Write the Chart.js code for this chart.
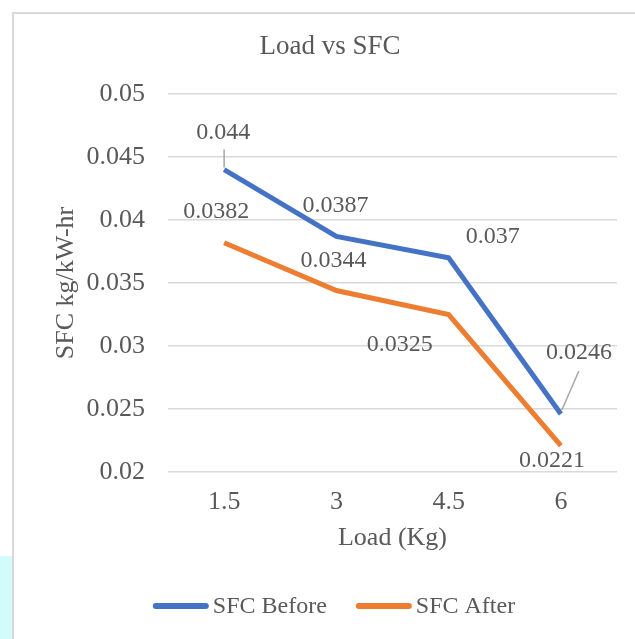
<!DOCTYPE html>
<html>
<head>
<meta charset="utf-8">
<script src="https://cdn.jsdelivr.net/npm/chart.js@4.4.0/dist/chart.umd.min.js"></script>
<style>
  body { margin: 0; background: #fff; }
  .frame { position: absolute; left: 12px; top: 12px; width: 700px; height: 700px;
           border-left: 2px solid #d9d9d9; border-top: 2px solid #d9d9d9; }
  .strip { position: absolute; left: 0; top: 556px; width: 12px; height: 83px; background: #d2fbfb; }
  #sfcChart { position: absolute; left: 0; top: 0; }
</style>
</head>
<body>
<div class="strip"></div>
<div class="frame"></div>
<canvas id="sfcChart" width="635" height="639"></canvas>
<script>
const loads = ['1.5', '3', '4.5', '6'];
const sfcBefore = [0.044, 0.0387, 0.037, 0.0246];
const sfcAfter = [0.0382, 0.0344, 0.0325, 0.0221];
const yMin = 0.02, yMax = 0.05, yStep = 0.005;

const serif = '"Liberation Serif", "Times New Roman", serif';
const grey = '#595959';

// where each data label sits relative to its point, plus leader lines
const labelSpots = [
    [{ dx: -1, dy: -37, leader: [0, -20, 0, -2] }, { dx: -1, dy: -31 }, { dx: 44, dy: -21 },
     { dx: 18, dy: -61, leader: [18, -43, 1, -4] }],
    [{ dx: -8, dy: -31 }, { dx: -3, dy: -30 }, { dx: -49, dy: 30 }, { dx: -9, dy: 15 }]
];

const extras = {
    id: 'extras',
    afterDatasetsDraw(chart) {
        const ctx = chart.ctx;
        ctx.save();
        ctx.font = '24px ' + serif;
        ctx.fillStyle = grey;
        ctx.textAlign = 'center';
        ctx.textBaseline = 'middle';
        chart.data.datasets.forEach((ds, i) => {
            const meta = chart.getDatasetMeta(i);
            meta.data.forEach((pt, j) => {
                const s = labelSpots[i][j];
                if (s.leader) {
                    ctx.strokeStyle = '#a6a6a6';
                    ctx.lineWidth = 1.5;
                    ctx.beginPath();
                    ctx.moveTo(pt.x + s.leader[0], pt.y + s.leader[1]);
                    ctx.lineTo(pt.x + s.leader[2], pt.y + s.leader[3]);
                    ctx.stroke();
                }
                ctx.fillText(String(ds.data[j]), pt.x + s.dx, pt.y + s.dy);
            });
        });

        // title
        ctx.font = '27px ' + serif;
        ctx.fillText('Load vs SFC', 330, 47);

        // legend
        ctx.font = '24px ' + serif;
        ctx.textAlign = 'left';
        const lineW = 56, gap = 4, itemGap = 29;
        const widths = chart.data.datasets.map(ds => ctx.measureText(ds.label).width);
        let total = 0;
        widths.forEach((w, i) => { total += lineW + gap + w + (i ? itemGap : 0); });
        let x = 334 - total / 2;
        const y = 606;
        chart.data.datasets.forEach((ds, i) => {
            ctx.strokeStyle = ds.borderColor;
            ctx.lineWidth = 6;
            ctx.lineCap = 'round';
            ctx.beginPath();
            ctx.moveTo(x + 3, y);
            ctx.lineTo(x + lineW - 3, y);
            ctx.stroke();
            ctx.fillText(ds.label, x + lineW + gap, y + 1);
            x += lineW + gap + widths[i] + itemGap;
        });
        ctx.restore();
    }
};

new Chart(document.getElementById('sfcChart'), {
    type: 'line',
    data: {
        labels: loads,
        datasets: [{
            label: 'SFC Before',
            data: sfcBefore,
            borderColor: '#4472C4',
            backgroundColor: '#4472C4',
            borderWidth: 5,
            pointRadius: 0,
            tension: 0,
            fill: false
        }, {
            label: 'SFC After',
            data: sfcAfter,
            borderColor: '#ED7D31',
            backgroundColor: '#ED7D31',
            borderWidth: 5,
            pointRadius: 0,
            tension: 0,
            fill: false
        }]
    },
    options: {
        responsive: false,
        animation: false,
        layout: { padding: { left: 0, right: 18, top: 94, bottom: 67 } },
        plugins: {
            legend: { display: false },
            title: { display: false },
            tooltip: { enabled: false }
        },
        scales: {
            x: {
                offset: true,
                grid: { display: false },
                border: { display: false },
                ticks: { color: grey, font: { family: serif, size: 26 }, padding: 7 },
                title: {
                    display: true, text: 'Load (Kg)', color: grey,
                    font: { family: serif, size: 26 }, padding: { top: 0, bottom: 18 }
                },
                afterFit(scale) { scale.height = 100; }
            },
            y: {
                min: yMin,
                max: yMax,
                grid: { color: '#d9d9d9', lineWidth: 1.5, drawTicks: false },
                border: { display: false },
                ticks: {
                    stepSize: yStep,
                    color: grey,
                    font: { family: serif, size: 26 },
                    padding: 23,
                    callback: v => String(Number(v.toFixed(4)))
                },
                title: {
                    display: true, text: 'SFC kg/kW-hr', color: grey,
                    font: { family: serif, size: 26 }, padding: { top: 51, bottom: 0 }
                },
                afterFit(scale) { scale.width = 168; }
            }
        }
    },
    plugins: [extras]
});
</script>
</body>
</html>
